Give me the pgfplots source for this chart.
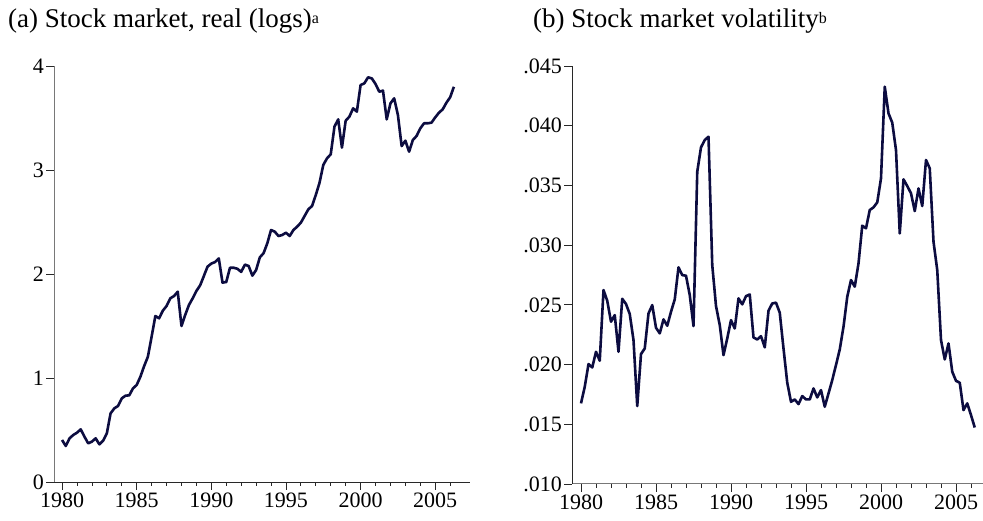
\documentclass[border=0pt]{standalone}
\usepackage{fontspec}
\setmainfont{Liberation Serif}
\usepackage{pgfplots}
\pgfplotsset{compat=1.18}
\usepackage{pgfplotstable}
\definecolor{navy}{RGB}{12,12,64}
\definecolor{axgray}{RGB}{120,120,120}
\definecolor{axdark}{RGB}{40,40,40}
\pgfplotstableread{
x y
1980.00 0.404
1980.25 0.346
1980.50 0.420
1980.75 0.452
1981.00 0.474
1981.25 0.506
1981.50 0.436
1981.75 0.372
1982.00 0.388
1982.25 0.420
1982.50 0.362
1982.75 0.397
1983.00 0.468
1983.25 0.660
1983.50 0.708
1983.75 0.731
1984.00 0.804
1984.25 0.830
1984.50 0.833
1984.75 0.900
1985.00 0.933
1985.25 1.013
1985.50 1.115
1985.75 1.205
1986.00 1.397
1986.25 1.596
1986.50 1.574
1986.75 1.647
1987.00 1.692
1987.25 1.766
1987.50 1.788
1987.75 1.830
1988.00 1.500
1988.25 1.606
1988.50 1.702
1988.75 1.766
1989.00 1.837
1989.25 1.891
1989.50 1.981
1989.75 2.071
1990.00 2.100
1990.25 2.115
1990.50 2.150
1990.75 1.917
1991.00 1.923
1991.25 2.060
1991.50 2.060
1991.75 2.050
1992.00 2.020
1992.25 2.090
1992.50 2.077
1992.75 1.984
1993.00 2.038
1993.25 2.160
1993.50 2.200
1993.75 2.295
1994.00 2.423
1994.25 2.407
1994.50 2.365
1994.75 2.375
1995.00 2.397
1995.25 2.365
1995.50 2.423
1995.75 2.455
1996.00 2.494
1996.25 2.558
1996.50 2.622
1996.75 2.654
1997.00 2.760
1997.25 2.878
1997.50 3.048
1997.75 3.112
1998.00 3.151
1998.25 3.417
1998.50 3.487
1998.75 3.215
1999.00 3.474
1999.25 3.513
1999.50 3.593
1999.75 3.561
2000.00 3.817
2000.25 3.833
2000.50 3.891
2000.75 3.881
2001.00 3.827
2001.25 3.753
2001.50 3.763
2001.75 3.487
2002.00 3.641
2002.25 3.689
2002.50 3.529
2002.75 3.230
2003.00 3.282
2003.25 3.176
2003.50 3.288
2003.75 3.327
2004.00 3.400
2004.25 3.449
2004.50 3.449
2004.75 3.455
2005.00 3.506
2005.25 3.551
2005.50 3.583
2005.75 3.647
2006.00 3.699
2006.25 3.800
}\stock
\pgfplotstableread{
x y
1980.00 0.01675
1980.25 0.01814
1980.50 0.02004
1980.75 0.01976
1981.00 0.02107
1981.25 0.02032
1981.50 0.02624
1981.75 0.02534
1982.00 0.02359
1982.25 0.02414
1982.50 0.02107
1982.75 0.02551
1983.00 0.02507
1983.25 0.02423
1983.50 0.02205
1983.75 0.01652
1984.00 0.02088
1984.25 0.02135
1984.50 0.02428
1984.75 0.02498
1985.00 0.02308
1985.25 0.02261
1985.50 0.02378
1985.75 0.02325
1986.00 0.02442
1986.25 0.02546
1986.50 0.02814
1986.75 0.02749
1987.00 0.02744
1987.25 0.02582
1987.50 0.02322
1987.75 0.03615
1988.00 0.03819
1988.25 0.03880
1988.50 0.03908
1988.75 0.02833
1989.00 0.02490
1989.25 0.02331
1989.50 0.02079
1989.75 0.02219
1990.00 0.02372
1990.25 0.02302
1990.50 0.02554
1990.75 0.02504
1991.00 0.02573
1991.25 0.02587
1991.50 0.02227
1991.75 0.02210
1992.00 0.02238
1992.25 0.02144
1992.50 0.02451
1992.75 0.02512
1993.00 0.02518
1993.25 0.02434
1993.50 0.02135
1993.75 0.01848
1994.00 0.01688
1994.25 0.01708
1994.50 0.01669
1994.75 0.01736
1995.00 0.01708
1995.25 0.01708
1995.50 0.01800
1995.75 0.01725
1996.00 0.01786
1996.25 0.01647
1996.50 0.01758
1996.75 0.01870
1997.00 0.01996
1997.25 0.02127
1997.50 0.02317
1997.75 0.02568
1998.00 0.02708
1998.25 0.02652
1998.50 0.02847
1998.75 0.03163
1999.00 0.03141
1999.25 0.03294
1999.50 0.03316
1999.75 0.03358
2000.00 0.03559
2000.25 0.04327
2000.50 0.04104
2000.75 0.04025
2001.00 0.03796
2001.25 0.03098
2001.50 0.03551
2001.75 0.03495
2002.00 0.03434
2002.25 0.03285
2002.50 0.03475
2002.75 0.03327
2003.00 0.03713
2003.25 0.03643
2003.50 0.03029
2003.75 0.02791
2004.00 0.02205
2004.25 0.02043
2004.50 0.02177
2004.75 0.01940
2005.00 0.01864
2005.25 0.01848
2005.50 0.01619
2005.75 0.01675
2006.00 0.01577
2006.25 0.01473
}\vol
\pgfplotsset{
  panel/.style={
    scale only axis,
    axis x line*=bottom,
    axis y line*=left,
    axis line style={-},
    tick align=outside,
    major tick length=8pt,
    minor tick length=4pt,
    tick style={axdark, line width=0.8pt},
    minor tick style={axdark, line width=0.8pt},
    xtick={1980,1985,1990,1995,2000,2005},
    xticklabels={1980,1985,1990,1995,2000,2005},
    minor xtick={1981,1982,1983,1984,1986,1987,1988,1989,1991,1992,1993,1994,1996,1997,1998,1999,2001,2002,2003,2004,2006},
    ticklabel style={font=\fontsize{22}{26}\selectfont, inner sep=1pt},
    xticklabel style={yshift=-2pt},
    yticklabel style={xshift=-1pt},
    scaled y ticks=false,
    scaled x ticks=false,
    /pgf/number format/assume math mode=true,
    clip=false,
  },
}
\newcommand{\supr}[1]{\raisebox{4pt}{\fontsize{16}{16}\selectfont #1}}
\begin{document}
\begin{tikzpicture}[x=1pt,y=1pt]
\path[use as bounding box] (0,0) rectangle (983,521);
\node[anchor=base west, font=\fontsize{27}{30}\selectfont, inner sep=0pt] at (8,493) {(a) Stock market, real (logs)\supr{a}};
\node[anchor=base west, font=\fontsize{27}{30}\selectfont, inner sep=0pt] at (533,493) {(b) Stock market volatility\supr{b}};
\begin{axis}[panel,
  at={(54pt,39pt)}, anchor=south west,
  width=416pt, height=416pt,
  xmin=1979.46, xmax=2007.33,
  ymin=0, ymax=4,
  ytick={0,1,2,3,4},
  yticklabels={0,1,2,3,4},
  x axis line style={axdark, line width=0.8pt},
  y axis line style={axgray, line width=1pt},
]
\addplot[navy, line width=2.6pt, line join=round] table[x=x,y=y] {\stock};
\end{axis}
\begin{axis}[panel,
  at={(572pt,37pt)}, anchor=south west,
  width=411pt, height=418pt,
  xmin=1979.4, xmax=2006.8,
  ymin=0.010, ymax=0.045,
  ytick={0.010,0.015,0.020,0.025,0.030,0.035,0.040,0.045},
  yticklabels={.010,.015,.020,.025,.030,.035,.040,.045},
  x axis line style={axgray, line width=1pt},
  y axis line style={axdark, line width=0.8pt},
]
\addplot[navy, line width=2.6pt, line join=round] table[x=x,y=y] {\vol};
\end{axis}
\end{tikzpicture}
\end{document}
